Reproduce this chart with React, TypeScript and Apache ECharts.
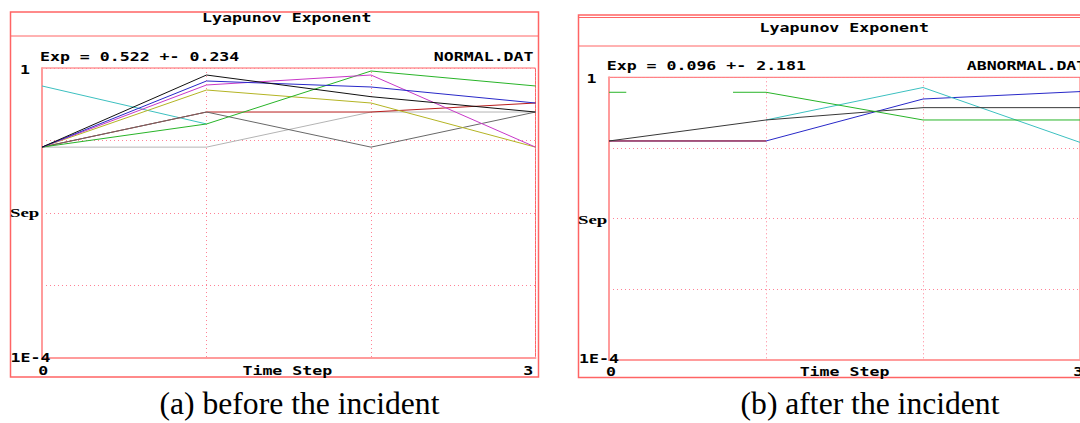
import React, { useEffect, useRef } from 'react';
import * as echarts from 'echarts';

const timeSteps = [0, 1, 2, 3];
const yTickLabels = ['1', '1E-4'];
const xTickLabels = ['0', '3'];
const yAxisName = 'Sep';
const xAxisName = 'Time Step';
const chartTitle = 'Lyapunov Exponent';
const captions = ['(a) before the incident', '(b) after the incident'];
const expTexts = ['Exp = 0.522 +- 0.234', 'Exp = 0.096 +- 2.181'];
const fileNames = ['NORMAL.DAT', 'ABNORMAL.DAT'];

// Panel (a): NORMAL.DAT separations per time step
const normalCyan = [0.565, 0.169, null, null];
const normalLightGray = [0.081, 0.081, 0.247, 0.247];
const normalRed = [0.081, 0.247, 0.247, 0.329];
const normalDarkGray = [0.081, 0.247, 0.081, 0.247];
const normalYellow = [0.081, 0.497, 0.329, 0.081];
const normalGreen = [0.081, 0.169, 0.909, 0.565];
const normalMagenta = [0.081, 0.583, 0.8, 0.081];
const normalBlue = [0.081, 0.662, 0.547, 0.329];
const normalBlack = [0.081, 0.8, 0.402, 0.247];

// Panel (b): ABNORMAL.DAT separations per time step
const abnormalBlue = [0.1256, 0.1256, 0.493, 0.628];
const abnormalRed = [0.1256, 0.1256, null, null];
const abnormalCyan = [null, 0.249, 0.717, 0.12];
const abnormalBlack = [0.1256, 0.249, 0.372, 0.372];
const abnormalGreenSteps = [0, 0.11, 0.45, 0.79, 1, 2, 3];
const abnormalGreen = [0.614, 0.614, null, 0.614, 0.614, 0.249, 0.249];

const pairs = (steps: number[], vals: (number | null)[]) =>
  steps.map((s, i) => [s, vals[i] == null ? '-' : vals[i]]);

const MONO = '"DejaVu Sans Mono", "Liberation Mono", monospace';
const SERIF = '"Liberation Serif", "DejaVu Serif", serif';
const FRAME = '#ff6464';
const GRIDC = '#ff8296';

function txt(text: string, x: number, y: number, align: string, opts: any = {}) {
  return {
    type: 'text',
    x,
    y,
    scaleX: opts.scaleX ?? 1.38,
    silent: true,
    z: 10,
    style: {
      text,
      fill: opts.fill ?? '#000',
      font: opts.font ?? `bold 12px ${MONO}`,
      align,
      textAlign: align,
      verticalAlign: 'middle',
      textVerticalAlign: 'middle',
    },
  };
}

function line(x1: number, y1: number, x2: number, y2: number, color = FRAME, w = 1) {
  return {
    type: 'line',
    silent: true,
    shape: { x1, y1, x2, y2 },
    style: { stroke: color, lineWidth: w },
  };
}

export default function App() {
  const ref = useRef<HTMLDivElement>(null);
  useEffect(() => {
    if (!ref.current) return;
    const chart = echarts.init(ref.current, null, { renderer: 'svg' });

    const mkX = (gi: number) => ({
      type: 'value',
      gridIndex: gi,
      min: 0,
      max: 3,
      interval: 1,
      axisLine: { show: true, lineStyle: { color: '#ff9c9c', width: 2 } },
      axisTick: { show: false },
      axisLabel: { show: false },
      splitLine: { show: true, lineStyle: { color: GRIDC, type: [1, 3], width: 1 } },
    });
    const mkY = (gi: number) => ({
      type: 'log',
      logBase: 10,
      gridIndex: gi,
      min: 0.0001,
      max: 1,
      axisLine: { show: true, lineStyle: { color: '#ff9c9c', width: 2 } },
      axisTick: { show: false },
      axisLabel: { show: false },
      splitLine: { show: true, lineStyle: { color: GRIDC, type: [1, 3], width: 1 } },
    });

    const ser = (name: string, gi: number, steps: number[], vals: (number | null)[], color: string) => ({
      name,
      type: 'line',
      xAxisIndex: gi,
      yAxisIndex: gi,
      data: pairs(steps, vals),
      symbol: 'none',
      silent: true,
      connectNulls: false,
      lineStyle: { color, width: 1 },
    });

    const option: any = {
      animation: false,
      backgroundColor: '#ffffff',
      grid: [
        { left: 42, top: 68, width: 493.5, height: 290, show: true, borderColor: FRAME, borderWidth: 1, backgroundColor: 'transparent' },
        { left: 609, top: 77.3, width: 473, height: 282.7, show: true, borderColor: FRAME, borderWidth: 1, backgroundColor: 'transparent' },
      ],
      xAxis: [mkX(0), mkX(1)],
      yAxis: [mkY(0), mkY(1)],
      series: [
        ser('cyan a', 0, timeSteps, normalCyan, '#3cc0c0'),
        ser('lightgray a', 0, timeSteps, normalLightGray, '#b4b4b4'),
        ser('red a', 0, timeSteps, normalRed, '#b81c1c'),
        ser('darkgray a', 0, timeSteps, normalDarkGray, '#686868'),
        ser('yellow a', 0, timeSteps, normalYellow, '#b4b424'),
        ser('green a', 0, timeSteps, normalGreen, '#28b428'),
        ser('magenta a', 0, timeSteps, normalMagenta, '#c838c8'),
        ser('blue a', 0, timeSteps, normalBlue, '#2828c8'),
        ser('black a', 0, timeSteps, normalBlack, '#101010'),
        ser('blue b', 1, timeSteps, abnormalBlue, '#2828c8'),
        ser('red b', 1, timeSteps, abnormalRed, '#b81c1c'),
        ser('cyan b', 1, timeSteps, abnormalCyan, '#3cc0c0'),
        ser('black b', 1, timeSteps, abnormalBlack, '#383838'),
        ser('green b', 1, abnormalGreenSteps, abnormalGreen, '#28b428'),
      ],
      graphic: [
        // panel (a) frame
        { type: 'rect', silent: true, shape: { x: 10.5, y: 12, width: 528, height: 365 }, style: { fill: 'none', stroke: FRAME, lineWidth: 1.5 } },
        line(10.5, 36, 538.5, 36),
        // panel (b) frame
        { type: 'rect', silent: true, shape: { x: 578.5, y: 15, width: 520, height: 362.5 }, style: { fill: 'none', stroke: FRAME, lineWidth: 1.5 } },
        line(578.5, 17.5, 1090, 17.5),
        line(578.5, 46, 1090, 46),
        // panel (a) texts
        txt(chartTitle, 286.7, 18.3, 'center'),
        txt(expTexts[0], 40, 57.3, 'left'),
        txt(fileNames[0], 533.5, 57.3, 'right'),
        txt(yTickLabels[0], 25, 70, 'center'),
        txt(yTickLabels[1], 10.5, 357.5, 'left'),
        txt(yAxisName, 10, 213, 'left', { font: `bold 13px ${SERIF}`, scaleX: 1.45 }),
        txt(xTickLabels[0], 43.3, 371, 'center'),
        txt(xAxisName, 287.3, 371, 'center'),
        txt(xTickLabels[1], 533.3, 371, 'right'),
        // panel (b) texts
        txt(chartTitle, 844.3, 28.3, 'center'),
        txt(expTexts[1], 606.7, 65.7, 'left'),
        txt(fileNames[1], 966.7, 65.7, 'left'),
        txt(yTickLabels[0], 591.5, 79, 'center'),
        txt(yTickLabels[1], 579, 359.3, 'left'),
        txt(yAxisName, 578, 220, 'left', { font: `bold 13px ${SERIF}`, scaleX: 1.45 }),
        txt(xTickLabels[0], 611, 372.3, 'center'),
        txt(xAxisName, 844.5, 372.3, 'center'),
        txt(xTickLabels[1], 1073.3, 372.3, 'left'),
        // captions
        txt(captions[0], 299.5, 404, 'center', { font: `31px ${SERIF}`, scaleX: 1.02 }),
        txt(captions[1], 870, 404, 'center', { font: `31px ${SERIF}`, scaleX: 1.02 }),
      ],
    };
    chart.setOption(option);
    return () => chart.dispose();
  }, []);
  return (
    <div
      ref={ref}
      style={{ position: 'absolute', left: 0, top: 0, width: 1080, height: 423, background: '#fff' }}
    />
  );
}
